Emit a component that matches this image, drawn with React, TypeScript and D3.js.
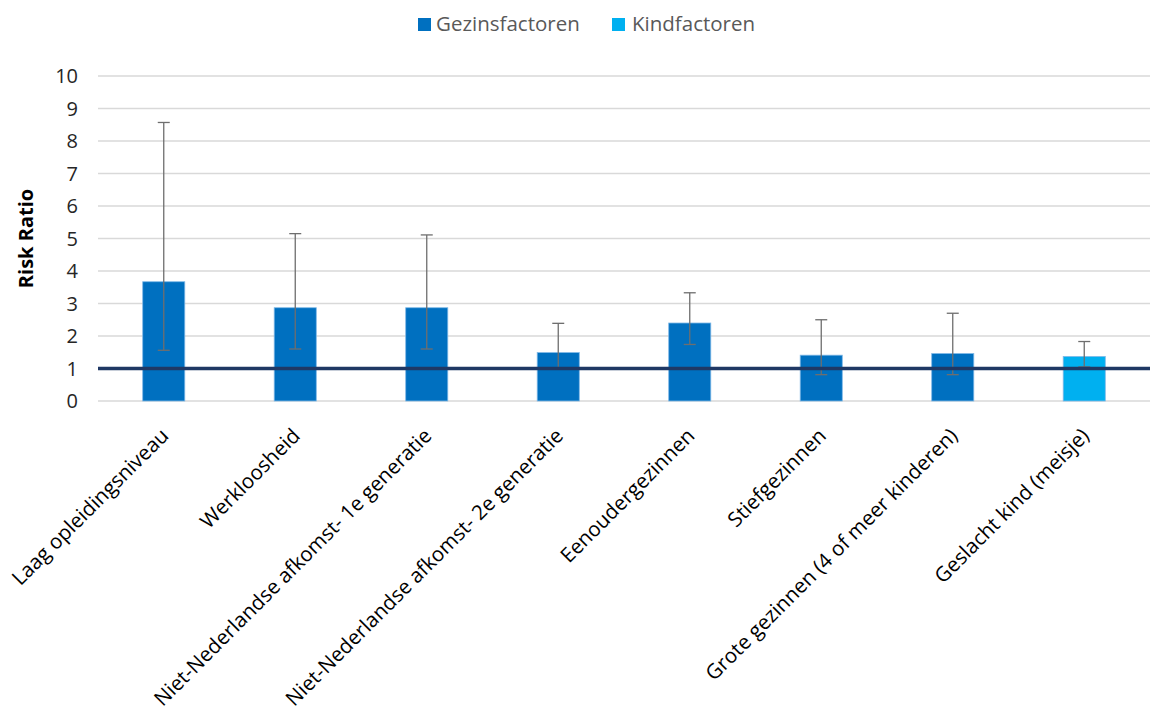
import { useEffect } from "react";
import * as d3 from "d3";

// categories and values
const categories = [
  "Laag opleidingsniveau",
  "Werkloosheid",
  "Niet-Nederlandse afkomst- 1e generatie",
  "Niet-Nederlandse afkomst- 2e generatie",
  "Eenoudergezinnen",
  "Stiefgezinnen",
  "Grote gezinnen (4 of meer kinderen)",
  "Geslacht kind (meisje)",
];
const groups = ["Gezinsfactoren", "Gezinsfactoren", "Gezinsfactoren", "Gezinsfactoren",
  "Gezinsfactoren", "Gezinsfactoren", "Gezinsfactoren", "Kindfactoren"];
const riskRatio = [3.67, 2.87, 2.87, 1.49, 2.40, 1.41, 1.46, 1.37];
const ciLow = [1.56, 1.60, 1.60, 0.98, 1.74, 0.81, 0.81, 1.05];
const ciHigh = [8.57, 5.15, 5.11, 2.39, 3.33, 2.50, 2.70, 1.83];
const yTicks = [0, 1, 2, 3, 4, 5, 6, 7, 8, 9, 10];
const legendItems = ["Gezinsfactoren", "Kindfactoren"];
const reference = 1;

const width = 1152;
const height = 713;
const margin = { top: 76, right: 2, bottom: 312, left: 98 };
const font = "'Open Sans', 'Noto Sans', sans-serif";

export default function App() {
  useEffect(() => {
    document.body.style.margin = "0";
  }, []);

  const color = d3.scaleOrdinal<string>()
    .domain(legendItems)
    .range(["#0070C0", "#00B0F0"]);

  const x = d3.scaleBand<string>()
    .domain(categories)
    .range([margin.left, width - margin.right])
    .paddingInner(0.68)
    .paddingOuter(0.34);

  const y = d3.scaleLinear()
    .domain([0, 10])
    .range([height - margin.bottom, margin.top]);

  const bw = x.bandwidth();
  const capW = 12;

  return (
    <svg width={width} height={height} style={{ display: "block", fontFamily: font }}>
      <rect width={width} height={height} fill="#fff" />

      {/* Legend */}
      <g>
        <rect x={418} y={18} width={13} height={13} fill={color(legendItems[0])} />
        <text x={436} y={31} fontSize={20.5} fill="#595959">{legendItems[0]}</text>
        <rect x={612} y={18} width={13} height={13} fill={color(legendItems[1])} />
        <text x={632} y={31} fontSize={20.5} fill="#595959">{legendItems[1]}</text>
      </g>

      {/* Grid */}
      {yTicks.map(t => (
        <line
          key={t}
          x1={margin.left}
          x2={width - margin.right}
          y1={y(t)}
          y2={y(t)}
          stroke="#D9D9D9"
          strokeWidth={1.3}
        />
      ))}

      {/* Y ticks */}
      {yTicks.map(t => (
        <text
          key={t}
          x={78}
          y={y(t)}
          dy="0.35em"
          textAnchor="end"
          fontSize={20}
          fill="#262626"
        >
          {t}
        </text>
      ))}

      <text
        transform={`translate(33,${(y(0) + y(10)) / 2}) rotate(-90)`}
        textAnchor="middle"
        fontSize={20}
        fontWeight="bold"
        fill="#000"
      >
        Risk Ratio
      </text>

      {/* Bars */}
      {categories.map((c, i) => (
        <rect
          key={c}
          x={x(c)!}
          y={y(riskRatio[i])}
          width={bw}
          height={y(0) - y(riskRatio[i])}
          fill={color(groups[i])}
          stroke="#7FB8E6"
          strokeWidth={0.8}
        />
      ))}

      {/* Error bars */}
      {categories.map((c, i) => {
        const cx = x(c)! + bw / 2;
        return (
          <g key={c} stroke="#6E6E6E" strokeWidth={1.3}>
            <line x1={cx} x2={cx} y1={y(ciLow[i])} y2={y(ciHigh[i])} />
            <line x1={cx - capW / 2} x2={cx + capW / 2} y1={y(ciHigh[i])} y2={y(ciHigh[i])} />
            <line x1={cx - capW / 2} x2={cx + capW / 2} y1={y(ciLow[i])} y2={y(ciLow[i])} />
          </g>
        );
      })}

      {/* Reference line */}
      <line
        x1={margin.left}
        x2={width - margin.right}
        y1={y(reference)}
        y2={y(reference)}
        stroke="#1F3864"
        strokeWidth={3.5}
      />

      {/* X labels */}
      {categories.map(c => (
        <text
          key={c}
          transform={`translate(${x(c)! + bw / 2 + 1},${y(0) + 31}) rotate(-45)`}
          textAnchor="end"
          dy="0.35em"
          fontSize={20.5}
          fill="#000"
        >
          {c}
        </text>
      ))}
    </svg>
  );
}
